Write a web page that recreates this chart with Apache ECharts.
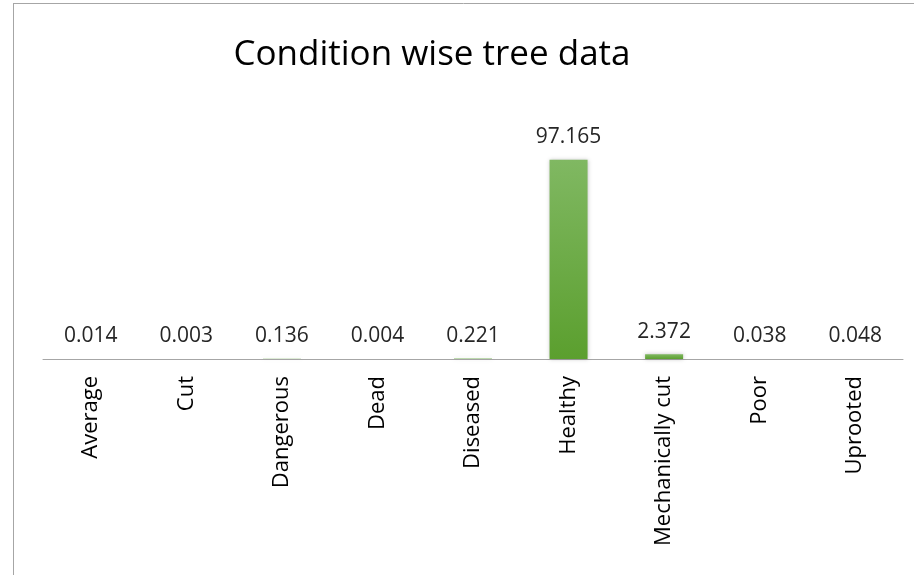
<!DOCTYPE html>
<html>
<head>
<meta charset="utf-8">
<script src="https://cdn.jsdelivr.net/npm/echarts@6/dist/echarts.min.js"></script>
<style>
  html, body { margin: 0; padding: 0; background: #fff; }
  #chart { width: 914px; height: 575px; }
</style>
</head>
<body>
<div id="chart"></div>
<script>
  // 数据
  var categories = ['Average', 'Cut', 'Dangerous', 'Dead', 'Diseased', 'Healthy', 'Mechanically cut', 'Poor', 'Uprooted'];
  var values = [0.014, 0.003, 0.136, 0.004, 0.221, 97.165, 2.372, 0.038, 0.048];

  var chart = echarts.init(document.getElementById('chart'));
  var font = '"Open Sans", "Noto Sans", sans-serif';

  chart.setOption({
    animation: false,
    title: {
      text: 'Condition wise tree data',
      left: 427,
      top: 33,
      textAlign: 'center',
      textStyle: { fontFamily: font, fontSize: 35, fontWeight: 'normal', color: '#000' }
    },
    graphic: [
      { type: 'line', shape: { x1: 13, y1: 3.5, x2: 914, y2: 3.5 }, style: { stroke: '#a6a6a6', lineWidth: 1 } },
      { type: 'line', shape: { x1: 13.5, y1: 3, x2: 13.5, y2: 575 }, style: { stroke: '#a6a6a6', lineWidth: 1 } }
    ],
    grid: { left: 43, right: 11, top: 113, bottom: 216 },
    xAxis: {
      type: 'category',
      data: categories,
      axisLine: { lineStyle: { color: '#a6a6a6', width: 1 } },
      axisTick: { show: false },
      axisLabel: { rotate: 90, margin: 17, fontFamily: font, fontSize: 22, color: '#000' }
    },
    yAxis: {
      type: 'value',
      min: 0,
      max: 120,
      show: false,
      splitLine: { show: false }
    },
    series: [{
      type: 'bar',
      data: values,
      barWidth: 38,
      itemStyle: {
        color: new echarts.graphic.LinearGradient(0, 0, 0, 1, [
          { offset: 0, color: '#80b862' },
          { offset: 1, color: '#5b9f2e' }
        ]),
        shadowColor: 'rgba(0,0,0,0.25)',
        shadowBlur: 4
      },
      label: {
        show: true,
        position: 'top',
        distance: 12,
        fontFamily: font,
        fontSize: 21,
        color: '#262626',
        formatter: function (p) { return p.value.toFixed(3); }
      }
    }]
  });
</script>
</body>
</html>
